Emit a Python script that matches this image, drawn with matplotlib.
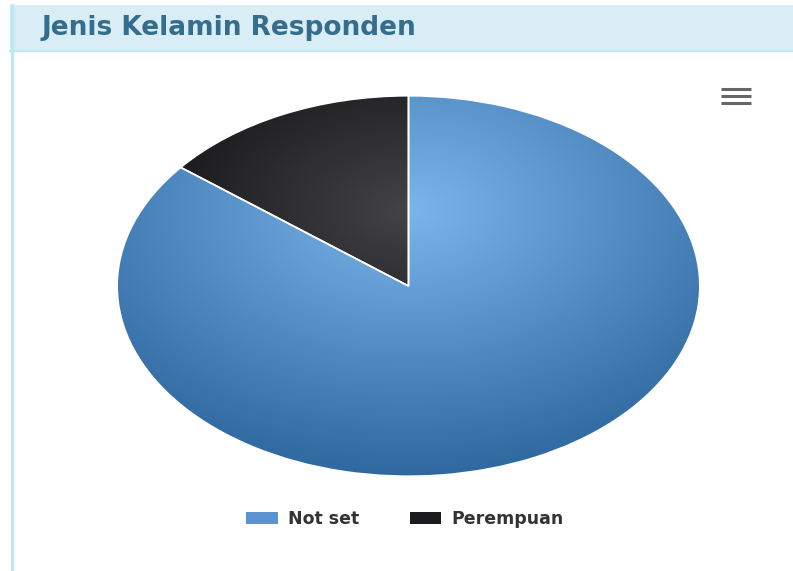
import numpy as np
import matplotlib
matplotlib.use("Agg")
import matplotlib.pyplot as plt
from matplotlib.patches import Rectangle, Patch
from matplotlib.colors import to_rgb

# data
labels = ["Not set", "Perempuan"]
values = [6, 1]
base_colors = ["#7cb5ec", "#434348"]

title = "Jenis Kelamin Responden"

W, H = 793, 571


def darken(color, amount=0.3):
    r, g, b = to_rgb(color)
    return tuple(max(0.0, c - amount) for c in (r, g, b))


def px(x, y):
    # pixel coords (top-left origin) -> figure fraction
    return x / W, 1 - y / H


fig = plt.figure(figsize=(W / 100, H / 100), dpi=100)
fig.patch.set_facecolor("white")

# panel header + border
fig.patches.append(Rectangle(px(10, 51), (W - 10) / W, 46 / H,
                             transform=fig.transFigure, facecolor="#d9edf7",
                             edgecolor="none", zorder=-1))
fig.lines.append(plt.Line2D([10 / W, 1], [1 - 50.5 / H] * 2,
                            transform=fig.transFigure, color="#bce8f1", lw=1.5,
                            zorder=-0.5))
fig.lines.append(plt.Line2D([11.5 / W] * 2, [0, 1 - 5 / H],
                            transform=fig.transFigure, color="#bce8f1", lw=2.5,
                            zorder=-0.5))

fig.text(42 / W, 1 - 28 / H, title, fontsize=19, fontweight="bold",
         color="#356d8c", va="center", ha="left", family="DejaVu Sans")

# menu icon
for yy in (89, 96, 103):
    fig.lines.append(plt.Line2D([721 / W, 751 / W], [1 - yy / H] * 2,
                                transform=fig.transFigure, color="#666666",
                                lw=2.2, solid_capstyle="butt"))

# pie (stretched to an ellipse like the screenshot)
ax = fig.add_axes([116 / W, 1 - 477 / H, 585 / W, 382 / H])
wedges, _ = ax.pie(values, colors=base_colors, startangle=90,
                   counterclock=False, radius=1,
                   wedgeprops=dict(edgecolor="white", linewidth=1.2))
ax.set_aspect("auto")
ax.axis("off")

# radial gradient like highcharts: cx=0.5, cy=0.3, r=0.7 of the pie box
n = 400
xs = np.linspace(-1, 1, n)
ys = np.linspace(-1, 1, n)
gx, gy = np.meshgrid(xs, ys)
dist = np.clip(np.sqrt(gx ** 2 + (gy - 0.4) ** 2) / 1.4, 0, 1)

for wedge, col in zip(wedges, base_colors):
    c0 = np.array(to_rgb(col))
    c1 = np.array(darken(col))
    img = c0[None, None, :] * (1 - dist[..., None]) + c1[None, None, :] * dist[..., None]
    im = ax.imshow(img, extent=(-1, 1, -1, 1), origin="lower",
                   aspect="auto", zorder=wedge.get_zorder() - 0.1)
    im.set_clip_path(wedge)
    wedge.set_facecolor("none")
ax.set_xlim(-1.004, 1.004)
ax.set_ylim(-1.004, 1.004)

# legend
handles = [Patch(facecolor=c, edgecolor="none") for c in ["#5a93cf", "#1c1c1e"]]
fig.legend(handles, labels, loc="center", bbox_to_anchor=(405 / W, 1 - 519 / H),
           ncol=2, frameon=False,
           prop=dict(weight="bold", size=12.5), labelcolor="#333333",
           handlelength=1.8, handleheight=0.72, handletextpad=0.6,
           columnspacing=2.9)

fig.savefig("out.png", dpi=100)
